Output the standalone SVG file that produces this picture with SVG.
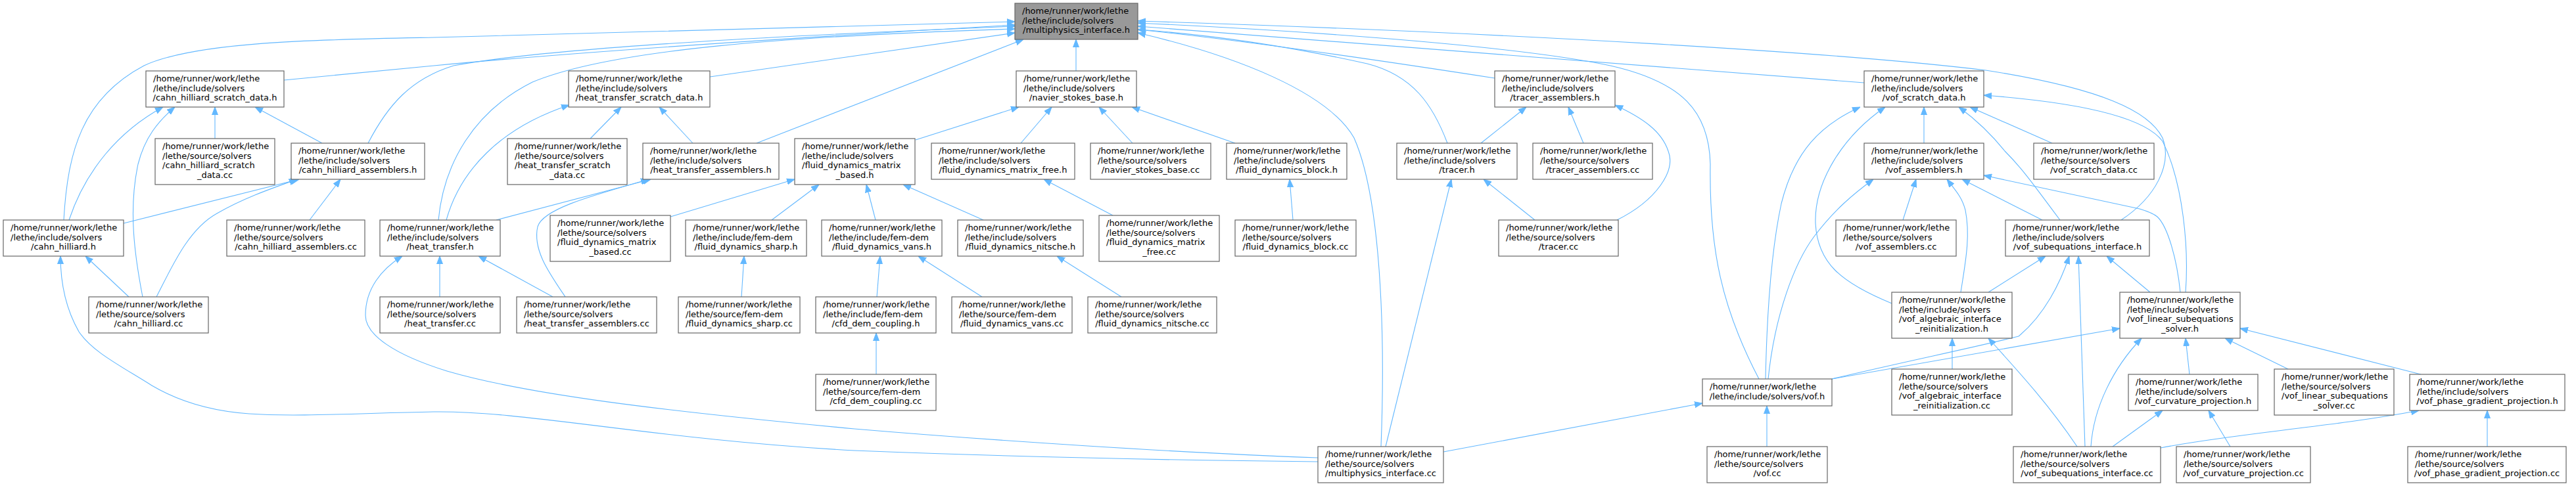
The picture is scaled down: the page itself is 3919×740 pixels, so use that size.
<svg xmlns="http://www.w3.org/2000/svg" width="3919" height="740" viewBox="0 0 3919 740">
<defs>
<marker id="ah" markerUnits="userSpaceOnUse" markerWidth="12" markerHeight="10" viewBox="0 0 12 10" refX="12" refY="5" orient="auto"><path d="M0,0.5 L12,5 L0,9.5 z" fill="#63b8ff" stroke="#63b8ff" stroke-width="1"/></marker>
</defs>
<style>
.n rect{fill:#ffffff;stroke:#666666;stroke-width:1.2}
.main rect{fill:#999999}
text{font-family:"DejaVu Sans","Liberation Sans",sans-serif;font-size:13px;fill:#000000}
.c{text-anchor:middle}
.e path{fill:none;stroke:#63b8ff;stroke-width:1.1;marker-end:url(#ah)}
</style>
<rect width="3919" height="740" fill="#ffffff"/>
<g id="edges" class="e">
<path d="M97,335 C103,230 125,150 219,100 C300,62 500,60 660,57 C900,48 1200,40 1544,33"/>
<path d="M432,122 L660,100 C900,77 1250,55 1544,38"/>
<path d="M560,218 C590,160 625,120 690,100 C850,70 1250,52 1544,40"/>
<path d="M667,335 C675,250 720,170 810,125 C930,75 1200,55 1544,44"/>
<path d="M1080,117 L1544,50"/>
<path d="M1151,218 L1557,60"/>
<path d="M1637,108 L1637,60"/>
<path d="M2274,119 C2100,92 1900,62 1731,45"/>
<path d="M2202,218 C2180,160 2150,115 2080,97 C1950,68 1830,52 1731,45"/>
<path d="M2101,680 C2108,500 2100,300 2060,210 C2020,140 1880,85 1731,50"/>
<path d="M2836,126 L1731,40"/>
<path d="M2676,577 C2620,470 2600,380 2602,250 C2600,170 2560,125 2450,100 C2300,68 1950,45 1731,35"/>
<path d="M3227,335 C3280,300 3305,250 3290,210 C3270,170 3200,135 3021,107 C2800,80 2300,50 1731,32"/>
<path d="M3325,445 C3330,380 3322,280 3290,215 C3260,175 3150,155 3018,145"/>
<path d="M3317,445 C3312,395 3298,345 3282,330 C3275,324 3265,321 3255,318 L3018,267"/>
<path d="M1393,213 L1550,163"/>
<path d="M1553,218 L1600,163"/>
<path d="M1723,218 L1672,163"/>
<path d="M1879,218 L1722,163"/>
<path d="M1020,330 L1209,273"/>
<path d="M1174,335 L1246,281"/>
<path d="M1332,335 L1318,281"/>
<path d="M1496,335 L1374,281"/>
<path d="M1693,328 L1588,273"/>
<path d="M1967,335 L1962,273"/>
<path d="M1128,452 L1132,390"/>
<path d="M1334,452 L1339,390"/>
<path d="M1494,452 L1397,390"/>
<path d="M1706,452 L1608,390"/>
<path d="M1333,570 L1333,507"/>
<path d="M679,335 C700,260 760,195 866,160"/>
<path d="M898,211 L945,163"/>
<path d="M1054,218 L1003,163"/>
<path d="M755,335 L990,273"/>
<path d="M860,452 C835,415 810,380 818,345 C826,318 900,298 987,273"/>
<path d="M669,452 L669,390"/>
<path d="M841,452 L728,390"/>
<path d="M105,335 C130,260 180,200 248,163"/>
<path d="M217,452 C205,390 195,320 210,250 C220,210 240,185 266,163"/>
<path d="M327,211 L327,163"/>
<path d="M490,218 L388,163"/>
<path d="M188,340 L455,273"/>
<path d="M238,452 C260,410 285,350 330,325 C370,302 410,288 452,273"/>
<path d="M471,335 L518,273"/>
<path d="M196,452 L130,390"/>
<path d="M2005,703 C1700,700 1450,692 1300,686 C1000,670 800,625 660,627 C550,629 450,635 379,630 C320,626 270,610 231,587 C180,555 140,535 120,505 C100,470 92,430 92,390"/>
<path d="M2005,697 C1800,690 1500,670 1300,653 C1000,625 800,600 680,565 C600,540 556,510 556,480 C556,440 580,410 612,390"/>
<path d="M2253,218 L2322,163"/>
<path d="M2409,218 L2386,163"/>
<path d="M2335,335 L2257,273"/>
<path d="M2460,335 C2520,305 2550,260 2538,230 C2528,200 2500,180 2457,160"/>
<path d="M2108,680 L2208,273"/>
<path d="M2927,218 L2927,163"/>
<path d="M3122,218 L2997,163"/>
<path d="M3134,335 C3100,290 3080,260 3050,230 C3030,205 3010,185 2980,163"/>
<path d="M2878,462 C2800,430 2765,400 2762,340 C2760,280 2800,210 2868,163"/>
<path d="M2686,577 C2688,480 2695,380 2710,310 C2730,230 2770,190 2830,163"/>
<path d="M2690,577 C2700,480 2730,400 2760,360 C2790,320 2820,295 2850,273"/>
<path d="M2895,335 L2915,273"/>
<path d="M2983,445 C2990,400 2998,360 2990,320 C2985,300 2975,290 2962,273"/>
<path d="M3107,335 L2985,273"/>
<path d="M3025,445 L3112,390"/>
<path d="M2787,577 C2900,550 3000,530 3071,512 C3110,480 3135,430 3148,390"/>
<path d="M2787,577 L3225,500"/>
<path d="M3172,680 L3162,390"/>
<path d="M3271,445 L3205,390"/>
<path d="M3160,680 C3120,620 3075,570 3025,515"/>
<path d="M3181,680 C3185,620 3215,560 3258,515"/>
<path d="M3214,680 L3290,625"/>
<path d="M3287,682 C3400,660 3550,650 3680,625"/>
<path d="M2970,562 L2970,515"/>
<path d="M2688,680 L2688,618"/>
<path d="M2196,688 L2590,614"/>
<path d="M3331,570 L3325,515"/>
<path d="M3481,562 L3385,515"/>
<path d="M3683,570 L3408,500"/>
<path d="M3393,680 L3360,625"/>
<path d="M3784,680 L3784,625"/>
</g>
<g id="n_mi" class="n main"><rect x="1544" y="5" width="187" height="55"/><text x="1555" y="21">/home/runner/work/lethe</text><text x="1555" y="35.5">/lethe/include/solvers</text><text class="c" x="1637.5" y="50">/multiphysics_interface.h</text></g>
<g id="n_chsd" class="n"><rect x="222" y="108" width="210" height="55"/><text x="233" y="124">/home/runner/work/lethe</text><text x="233" y="138.5">/lethe/include/solvers</text><text class="c" x="327" y="153">/cahn_hilliard_scratch_data.h</text></g>
<g id="n_chsdcc" class="n"><rect x="236" y="211" width="182" height="70"/><text x="247" y="227">/home/runner/work/lethe</text><text x="247" y="241.5">/lethe/source/solvers</text><text x="247" y="256">/cahn_hilliard_scratch</text><text class="c" x="327" y="270.5">_data.cc</text></g>
<g id="n_cha" class="n"><rect x="443" y="218" width="203" height="55"/><text x="454" y="234">/home/runner/work/lethe</text><text x="454" y="248.5">/lethe/include/solvers</text><text class="c" x="544.5" y="263">/cahn_hilliard_assemblers.h</text></g>
<g id="n_ch" class="n"><rect x="5" y="335" width="183" height="55"/><text x="16" y="351">/home/runner/work/lethe</text><text x="16" y="365.5">/lethe/include/solvers</text><text class="c" x="96.5" y="380">/cahn_hilliard.h</text></g>
<g id="n_chacc" class="n"><rect x="345" y="335" width="210" height="55"/><text x="356" y="351">/home/runner/work/lethe</text><text x="356" y="365.5">/lethe/source/solvers</text><text class="c" x="450" y="380">/cahn_hilliard_assemblers.cc</text></g>
<g id="n_chcc" class="n"><rect x="135" y="452" width="182" height="55"/><text x="146" y="468">/home/runner/work/lethe</text><text x="146" y="482.5">/lethe/source/solvers</text><text class="c" x="226" y="497">/cahn_hilliard.cc</text></g>
<g id="n_ht" class="n"><rect x="578" y="335" width="183" height="55"/><text x="589" y="351">/home/runner/work/lethe</text><text x="589" y="365.5">/lethe/include/solvers</text><text class="c" x="669.5" y="380">/heat_transfer.h</text></g>
<g id="n_htcc" class="n"><rect x="578" y="452" width="183" height="55"/><text x="589" y="468">/home/runner/work/lethe</text><text x="589" y="482.5">/lethe/source/solvers</text><text class="c" x="669.5" y="497">/heat_transfer.cc</text></g>
<g id="n_htsd" class="n"><rect x="865" y="108" width="215" height="55"/><text x="876" y="124">/home/runner/work/lethe</text><text x="876" y="138.5">/lethe/include/solvers</text><text class="c" x="972.5" y="153">/heat_transfer_scratch_data.h</text></g>
<g id="n_htsdcc" class="n"><rect x="772" y="211" width="182" height="70"/><text x="783" y="227">/home/runner/work/lethe</text><text x="783" y="241.5">/lethe/source/solvers</text><text x="783" y="256">/heat_transfer_scratch</text><text class="c" x="863" y="270.5">_data.cc</text></g>
<g id="n_hta" class="n"><rect x="978" y="218" width="207" height="55"/><text x="989" y="234">/home/runner/work/lethe</text><text x="989" y="248.5">/lethe/include/solvers</text><text class="c" x="1081.5" y="263">/heat_transfer_assemblers.h</text></g>
<g id="n_htacc" class="n"><rect x="786" y="452" width="213" height="55"/><text x="797" y="468">/home/runner/work/lethe</text><text x="797" y="482.5">/lethe/source/solvers</text><text class="c" x="892.5" y="497">/heat_transfer_assemblers.cc</text></g>
<g id="n_fdmb" class="n"><rect x="1209" y="211" width="183" height="70"/><text x="1220" y="227">/home/runner/work/lethe</text><text x="1220" y="241.5">/lethe/include/solvers</text><text x="1220" y="256">/fluid_dynamics_matrix</text><text class="c" x="1300.5" y="270.5">_based.h</text></g>
<g id="n_fdmbcc" class="n"><rect x="837" y="328" width="183" height="70"/><text x="848" y="344">/home/runner/work/lethe</text><text x="848" y="358.5">/lethe/source/solvers</text><text x="848" y="373">/fluid_dynamics_matrix</text><text class="c" x="928.5" y="387.5">_based.cc</text></g>
<g id="n_fds" class="n"><rect x="1043" y="335" width="184" height="55"/><text x="1054" y="351">/home/runner/work/lethe</text><text x="1054" y="365.5">/lethe/include/fem-dem</text><text class="c" x="1135" y="380">/fluid_dynamics_sharp.h</text></g>
<g id="n_fdscc" class="n"><rect x="1032" y="452" width="185" height="55"/><text x="1043" y="468">/home/runner/work/lethe</text><text x="1043" y="482.5">/lethe/source/fem-dem</text><text class="c" x="1124.5" y="497">/fluid_dynamics_sharp.cc</text></g>
<g id="n_fdv" class="n"><rect x="1250" y="335" width="183" height="55"/><text x="1261" y="351">/home/runner/work/lethe</text><text x="1261" y="365.5">/lethe/include/fem-dem</text><text class="c" x="1341.5" y="380">/fluid_dynamics_vans.h</text></g>
<g id="n_cdc" class="n"><rect x="1241" y="452" width="183" height="55"/><text x="1252" y="468">/home/runner/work/lethe</text><text x="1252" y="482.5">/lethe/include/fem-dem</text><text class="c" x="1332.5" y="497">/cfd_dem_coupling.h</text></g>
<g id="n_cdccc" class="n"><rect x="1241" y="570" width="183" height="55"/><text x="1252" y="586">/home/runner/work/lethe</text><text x="1252" y="600.5">/lethe/source/fem-dem</text><text class="c" x="1332.5" y="615">/cfd_dem_coupling.cc</text></g>
<g id="n_nsb" class="n"><rect x="1546" y="108" width="183" height="55"/><text x="1557" y="124">/home/runner/work/lethe</text><text x="1557" y="138.5">/lethe/include/solvers</text><text class="c" x="1637.5" y="153">/navier_stokes_base.h</text></g>
<g id="n_fdmf" class="n"><rect x="1417" y="218" width="218" height="55"/><text x="1428" y="234">/home/runner/work/lethe</text><text x="1428" y="248.5">/lethe/include/solvers</text><text class="c" x="1526" y="263">/fluid_dynamics_matrix_free.h</text></g>
<g id="n_nsbcc" class="n"><rect x="1659" y="218" width="183" height="55"/><text x="1670" y="234">/home/runner/work/lethe</text><text x="1670" y="248.5">/lethe/source/solvers</text><text class="c" x="1750.5" y="263">/navier_stokes_base.cc</text></g>
<g id="n_fdb" class="n"><rect x="1866" y="218" width="183" height="55"/><text x="1877" y="234">/home/runner/work/lethe</text><text x="1877" y="248.5">/lethe/include/solvers</text><text class="c" x="1957.5" y="263">/fluid_dynamics_block.h</text></g>
<g id="n_fdn" class="n"><rect x="1457" y="335" width="191" height="55"/><text x="1468" y="351">/home/runner/work/lethe</text><text x="1468" y="365.5">/lethe/include/solvers</text><text class="c" x="1552.5" y="380">/fluid_dynamics_nitsche.h</text></g>
<g id="n_fdmfcc" class="n"><rect x="1672" y="328" width="183" height="70"/><text x="1683" y="344">/home/runner/work/lethe</text><text x="1683" y="358.5">/lethe/source/solvers</text><text x="1683" y="373">/fluid_dynamics_matrix</text><text class="c" x="1763.5" y="387.5">_free.cc</text></g>
<g id="n_fdbcc" class="n"><rect x="1879" y="335" width="184" height="55"/><text x="1890" y="351">/home/runner/work/lethe</text><text x="1890" y="365.5">/lethe/source/solvers</text><text class="c" x="1971" y="380">/fluid_dynamics_block.cc</text></g>
<g id="n_fdvcc" class="n"><rect x="1448" y="452" width="183" height="55"/><text x="1459" y="468">/home/runner/work/lethe</text><text x="1459" y="482.5">/lethe/source/fem-dem</text><text class="c" x="1539.5" y="497">/fluid_dynamics_vans.cc</text></g>
<g id="n_fdncc" class="n"><rect x="1655" y="452" width="196" height="55"/><text x="1666" y="468">/home/runner/work/lethe</text><text x="1666" y="482.5">/lethe/source/solvers</text><text class="c" x="1753" y="497">/fluid_dynamics_nitsche.cc</text></g>
<g id="n_ta" class="n"><rect x="2274" y="108" width="183" height="55"/><text x="2285" y="124">/home/runner/work/lethe</text><text x="2285" y="138.5">/lethe/include/solvers</text><text class="c" x="2365.5" y="153">/tracer_assemblers.h</text></g>
<g id="n_t" class="n"><rect x="2125" y="218" width="183" height="55"/><text x="2136" y="234">/home/runner/work/lethe</text><text x="2136" y="248.5">/lethe/include/solvers</text><text class="c" x="2216.5" y="263">/tracer.h</text></g>
<g id="n_tacc" class="n"><rect x="2332" y="218" width="182" height="55"/><text x="2343" y="234">/home/runner/work/lethe</text><text x="2343" y="248.5">/lethe/source/solvers</text><text class="c" x="2423" y="263">/tracer_assemblers.cc</text></g>
<g id="n_tcc" class="n"><rect x="2280" y="335" width="182" height="55"/><text x="2291" y="351">/home/runner/work/lethe</text><text x="2291" y="365.5">/lethe/source/solvers</text><text class="c" x="2371" y="380">/tracer.cc</text></g>
<g id="n_micc" class="n"><rect x="2005" y="680" width="191" height="55"/><text x="2016" y="696">/home/runner/work/lethe</text><text x="2016" y="710.5">/lethe/source/solvers</text><text class="c" x="2100.5" y="725">/multiphysics_interface.cc</text></g>
<g id="n_vsd" class="n"><rect x="2836" y="108" width="182" height="55"/><text x="2847" y="124">/home/runner/work/lethe</text><text x="2847" y="138.5">/lethe/include/solvers</text><text class="c" x="2927" y="153">/vof_scratch_data.h</text></g>
<g id="n_va" class="n"><rect x="2836" y="218" width="182" height="55"/><text x="2847" y="234">/home/runner/work/lethe</text><text x="2847" y="248.5">/lethe/include/solvers</text><text class="c" x="2927" y="263">/vof_assemblers.h</text></g>
<g id="n_vsdcc" class="n"><rect x="3094" y="218" width="183" height="55"/><text x="3105" y="234">/home/runner/work/lethe</text><text x="3105" y="248.5">/lethe/source/solvers</text><text class="c" x="3185.5" y="263">/vof_scratch_data.cc</text></g>
<g id="n_vacc" class="n"><rect x="2793" y="335" width="183" height="55"/><text x="2804" y="351">/home/runner/work/lethe</text><text x="2804" y="365.5">/lethe/source/solvers</text><text class="c" x="2884.5" y="380">/vof_assemblers.cc</text></g>
<g id="n_vsi" class="n"><rect x="3051" y="335" width="219" height="55"/><text x="3062" y="351">/home/runner/work/lethe</text><text x="3062" y="365.5">/lethe/include/solvers</text><text class="c" x="3160.5" y="380">/vof_subequations_interface.h</text></g>
<g id="n_vair" class="n"><rect x="2878" y="445" width="183" height="70"/><text x="2889" y="461">/home/runner/work/lethe</text><text x="2889" y="475.5">/lethe/include/solvers</text><text x="2889" y="490">/vof_algebraic_interface</text><text class="c" x="2969.5" y="504.5">_reinitialization.h</text></g>
<g id="n_vaircc" class="n"><rect x="2878" y="562" width="183" height="70"/><text x="2889" y="578">/home/runner/work/lethe</text><text x="2889" y="592.5">/lethe/source/solvers</text><text x="2889" y="607">/vof_algebraic_interface</text><text class="c" x="2969.5" y="621.5">_reinitialization.cc</text></g>
<g id="n_vlss" class="n"><rect x="3225" y="445" width="183" height="70"/><text x="3236" y="461">/home/runner/work/lethe</text><text x="3236" y="475.5">/lethe/include/solvers</text><text x="3236" y="490">/vof_linear_subequations</text><text class="c" x="3316.5" y="504.5">_solver.h</text></g>
<g id="n_vofh" class="n"><rect x="2590" y="577" width="197" height="41"/><text x="2601" y="593">/home/runner/work/lethe</text><text class="c" x="2688.5" y="607.5">/lethe/include/solvers/vof.h</text></g>
<g id="n_vofcc" class="n"><rect x="2597" y="680" width="183" height="55"/><text x="2608" y="696">/home/runner/work/lethe</text><text x="2608" y="710.5">/lethe/source/solvers</text><text class="c" x="2688.5" y="725">/vof.cc</text></g>
<g id="n_vsicc" class="n"><rect x="3063" y="680" width="224" height="55"/><text x="3074" y="696">/home/runner/work/lethe</text><text x="3074" y="710.5">/lethe/source/solvers</text><text class="c" x="3175" y="725">/vof_subequations_interface.cc</text></g>
<g id="n_vcp" class="n"><rect x="3238" y="570" width="197" height="55"/><text x="3249" y="586">/home/runner/work/lethe</text><text x="3249" y="600.5">/lethe/include/solvers</text><text class="c" x="3336.5" y="615">/vof_curvature_projection.h</text></g>
<g id="n_vcpcc" class="n"><rect x="3311" y="680" width="204" height="55"/><text x="3322" y="696">/home/runner/work/lethe</text><text x="3322" y="710.5">/lethe/source/solvers</text><text class="c" x="3413" y="725">/vof_curvature_projection.cc</text></g>
<g id="n_vlsscc" class="n"><rect x="3460" y="562" width="182" height="70"/><text x="3471" y="578">/home/runner/work/lethe</text><text x="3471" y="592.5">/lethe/source/solvers</text><text x="3471" y="607">/vof_linear_subequations</text><text class="c" x="3551" y="621.5">_solver.cc</text></g>
<g id="n_vpgp" class="n"><rect x="3666" y="570" width="236" height="55"/><text x="3677" y="586">/home/runner/work/lethe</text><text x="3677" y="600.5">/lethe/include/solvers</text><text class="c" x="3784" y="615">/vof_phase_gradient_projection.h</text></g>
<g id="n_vpgpcc" class="n"><rect x="3663" y="680" width="241" height="55"/><text x="3674" y="696">/home/runner/work/lethe</text><text x="3674" y="710.5">/lethe/source/solvers</text><text class="c" x="3783.5" y="725">/vof_phase_gradient_projection.cc</text></g>
</svg>
